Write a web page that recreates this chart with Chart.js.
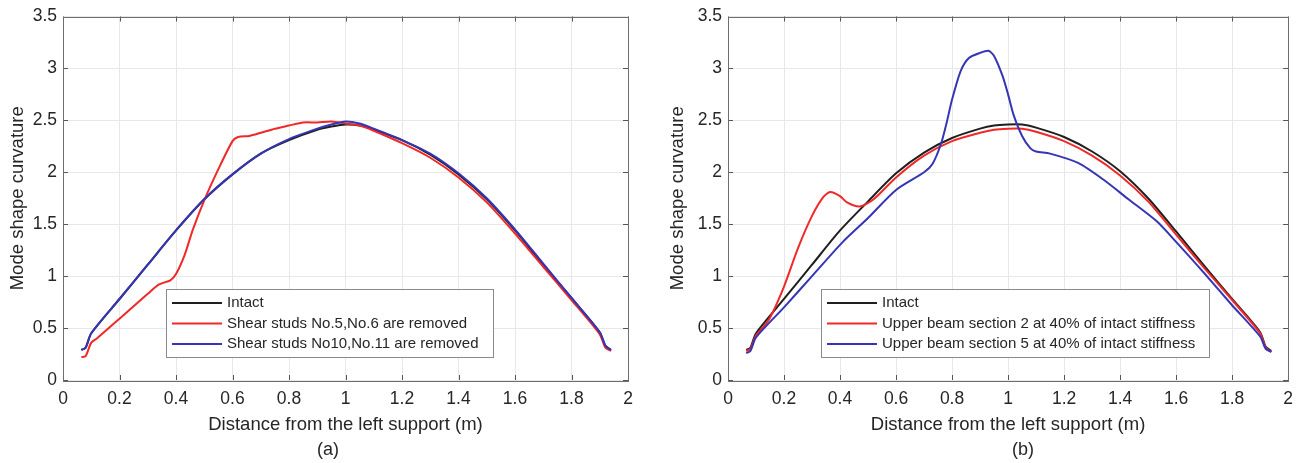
<!DOCTYPE html>
<html>
<head>
<meta charset="utf-8">
<script src="https://cdn.jsdelivr.net/npm/chart.js@4.4.1/dist/chart.umd.min.js"></script>
<style>
  html, body { margin: 0; padding: 0; background: #fff; }
  #wrap { position: relative; width: 1302px; height: 463px; }
  .panel { position: absolute; top: 0; height: 463px; }
  #panelA { left: 0; width: 660px; }
  #panelB { left: 660px; width: 642px; }
</style>
</head>
<body>
<div id="wrap">
  <div class="panel" id="panelA"><canvas id="chartA" width="660" height="463"></canvas></div>
  <div class="panel" id="panelB"><canvas id="chartB" width="642" height="463"></canvas></div>
</div>
<script>
// Axis ticks (both panels)
const xTickValues = [0, 0.2, 0.4, 0.6, 0.8, 1, 1.2, 1.4, 1.6, 1.8, 2];
const xTickLabels = ["0", "0.2", "0.4", "0.6", "0.8", "1", "1.2", "1.4", "1.6", "1.8", "2"];
const yTickValues = [0, 0.5, 1, 1.5, 2, 2.5, 3, 3.5];
const yTickLabels = ["0", "0.5", "1", "1.5", "2", "2.5", "3", "3.5"];

// Panel (a)
const aIntactX = [0.065, 0.08, 0.1, 0.2, 0.3, 0.4, 0.5, 0.6, 0.7, 0.8, 0.9, 0.95, 1.0, 1.05, 1.1, 1.2, 1.3, 1.4, 1.5, 1.6, 1.7, 1.8, 1.9, 1.92, 1.94];
const aIntactY = [0.29, 0.31, 0.45, 0.78, 1.11, 1.44, 1.74, 1.98, 2.18, 2.31, 2.41, 2.44, 2.46, 2.45, 2.41, 2.31, 2.17, 1.98, 1.74, 1.44, 1.11, 0.79, 0.46, 0.33, 0.29];

const aStuds56X = [0.065, 0.08, 0.1, 0.12, 0.2, 0.3, 0.34, 0.38, 0.4, 0.43, 0.46, 0.5, 0.55, 0.6, 0.62, 0.66, 0.7, 0.75, 0.8, 0.85, 0.9, 0.95, 1.0, 1.05, 1.1, 1.2, 1.3, 1.4, 1.5, 1.6, 1.7, 1.8, 1.9, 1.92, 1.94];
const aStuds56Y = [0.22, 0.23, 0.36, 0.40, 0.59, 0.83, 0.92, 0.96, 1.02, 1.2, 1.45, 1.73, 2.03, 2.30, 2.34, 2.35, 2.38, 2.42, 2.45, 2.48, 2.48, 2.49, 2.47, 2.45, 2.40, 2.28, 2.14, 1.95, 1.71, 1.41, 1.09, 0.77, 0.44, 0.31, 0.28];

const aStuds1011X = [0.065, 0.08, 0.1, 0.2, 0.3, 0.4, 0.5, 0.6, 0.7, 0.8, 0.9, 0.95, 1.0, 1.05, 1.1, 1.2, 1.3, 1.4, 1.5, 1.6, 1.7, 1.8, 1.9, 1.92, 1.94];
const aStuds1011Y = [0.29, 0.31, 0.45, 0.78, 1.11, 1.44, 1.74, 1.98, 2.18, 2.32, 2.42, 2.46, 2.49, 2.47, 2.42, 2.31, 2.18, 1.99, 1.75, 1.45, 1.12, 0.79, 0.46, 0.33, 0.29];

// Panel (b)
const bIntactX = [0.065, 0.08, 0.1, 0.2, 0.3, 0.4, 0.5, 0.6, 0.7, 0.8, 0.9, 0.95, 1.0, 1.05, 1.1, 1.2, 1.3, 1.4, 1.5, 1.6, 1.7, 1.8, 1.9, 1.92, 1.94];
const bIntactY = [0.29, 0.31, 0.45, 0.78, 1.11, 1.44, 1.72, 1.99, 2.19, 2.33, 2.42, 2.45, 2.46, 2.46, 2.43, 2.34, 2.2, 2.01, 1.75, 1.43, 1.1, 0.78, 0.46, 0.32, 0.28];

const bSection2X = [0.065, 0.08, 0.1, 0.12, 0.15, 0.2, 0.25, 0.3, 0.34, 0.365, 0.4, 0.425, 0.47, 0.52, 0.6, 0.7, 0.8, 0.9, 0.95, 1.0, 1.05, 1.1, 1.2, 1.3, 1.4, 1.5, 1.6, 1.7, 1.8, 1.9, 1.92, 1.94];
const bSection2Y = [0.28, 0.30, 0.43, 0.49, 0.60, 0.90, 1.27, 1.58, 1.76, 1.81, 1.77, 1.71, 1.67, 1.74, 1.95, 2.16, 2.30, 2.38, 2.41, 2.42, 2.42, 2.39, 2.30, 2.16, 1.97, 1.72, 1.40, 1.08, 0.77, 0.45, 0.31, 0.27];

const bSection5X = [0.065, 0.08, 0.1, 0.2, 0.3, 0.41, 0.5, 0.6, 0.7, 0.73, 0.76, 0.78, 0.8, 0.83, 0.86, 0.9, 0.93, 0.95, 0.98, 1.0, 1.02, 1.05, 1.08, 1.1, 1.15, 1.25, 1.34, 1.43, 1.53, 1.6, 1.7, 1.8, 1.9, 1.92, 1.94];
const bSection5Y = [0.26, 0.28, 0.41, 0.70, 1.00, 1.33, 1.56, 1.83, 2.00, 2.08, 2.27, 2.47, 2.70, 2.97, 3.10, 3.15, 3.17, 3.12, 2.93, 2.75, 2.55, 2.35, 2.23, 2.20, 2.18, 2.09, 1.93, 1.74, 1.53, 1.33, 1.03, 0.72, 0.42, 0.30, 0.27];

const COLOR_BLACK = "#1f1f1f";
const COLOR_RED = "#f02828";
const COLOR_BLUE = "#3535b5";
const TEXT_COLOR = "#262626";
const FONT = "'Liberation Sans', Arial, sans-serif";

const toPoints = (xs, ys) => xs.map((x, i) => ({ x: x, y: ys[i] }));

// frame, inward ticks, in-plot legend and panel caption
const matlabAxes = {
  id: "matlabAxes",
  afterDatasetsDraw(chart, args, opts) {
    const ctx = chart.ctx;
    const area = chart.chartArea;
    const xs = chart.scales.x;
    const ys = chart.scales.y;
    ctx.save();

    // inward tick marks on all four sides
    ctx.strokeStyle = "#555";
    ctx.lineWidth = 1;
    ctx.beginPath();
    xTickValues.forEach((v) => {
      const px = Math.round(xs.getPixelForValue(v)) + 0.5;
      ctx.moveTo(px, area.bottom);
      ctx.lineTo(px, area.bottom - 5);
      ctx.moveTo(px, area.top);
      ctx.lineTo(px, area.top + 5);
    });
    yTickValues.forEach((v) => {
      const py = Math.round(ys.getPixelForValue(v)) + 0.5;
      ctx.moveTo(area.left, py);
      ctx.lineTo(area.left + 5, py);
      ctx.moveTo(area.right, py);
      ctx.lineTo(area.right - 5, py);
    });
    ctx.stroke();

    // box
    ctx.strokeStyle = "#6e6e6e";
    ctx.strokeRect(Math.round(area.left) + 0.5, Math.round(area.top) + 0.5,
      Math.round(area.right - area.left), Math.round(area.bottom - area.top));

    // legend
    const lg = opts.legend;
    if (lg) {
      ctx.fillStyle = "#fff";
      ctx.fillRect(lg.left, lg.top, lg.width, lg.height);
      ctx.strokeStyle = "#8a8a8a";
      ctx.strokeRect(lg.left + 0.5, lg.top + 0.5, lg.width, lg.height);
      ctx.font = lg.fontSize + "px " + FONT;
      ctx.textBaseline = "middle";
      ctx.textAlign = "left";
      chart.data.datasets.forEach((ds, i) => {
        const y = lg.top + lg.firstRow + i * lg.rowGap;
        ctx.strokeStyle = ds.borderColor;
        ctx.lineWidth = 2;
        ctx.beginPath();
        ctx.moveTo(lg.left + 6, y);
        ctx.lineTo(lg.left + 56, y);
        ctx.stroke();
        ctx.fillStyle = TEXT_COLOR;
        ctx.fillText(ds.label, lg.left + 61, y);
      });
    }

    // caption under the axis title
    if (opts.caption) {
      ctx.font = "18px " + FONT;
      ctx.fillStyle = TEXT_COLOR;
      ctx.textAlign = "center";
      ctx.textBaseline = "middle";
      ctx.fillText(opts.caption.text, opts.caption.x, opts.caption.y);
    }
    ctx.restore();
  },
};

const makeChart = (canvasId, datasets, yWidth, rightPad, legendOpts, caption) => {
  const ctx = document.getElementById(canvasId).getContext("2d");
  return new Chart(ctx, {
    type: "line",
    data: { datasets: datasets },
    options: {
      responsive: false,
      animation: false,
      devicePixelRatio: 1,
      layout: { padding: { top: 15, right: rightPad, left: 0, bottom: 0 } },
      elements: {
        point: { radius: 0 },
        line: { borderWidth: 2, tension: 0.25 },
      },
      plugins: {
        legend: { display: false },
        tooltip: { enabled: false },
        matlabAxes: { legend: legendOpts, caption: caption },
      },
      scales: {
        x: {
          type: "linear",
          min: 0,
          max: 2,
          afterBuildTicks: (scale) => {
            scale.ticks = xTickValues.map((v) => ({ value: v }));
          },
          afterFit: (scale) => {
            scale.height = 83;
          },
          grid: { color: "#e8e8e8", drawTicks: false },
          border: { display: false },
          ticks: {
            padding: 9,
            color: TEXT_COLOR,
            font: { family: FONT, size: 17.5 },
            maxRotation: 0,
            callback: (v, i) => xTickLabels[i],
          },
          title: {
            display: true,
            text: "Distance from the left support (m)",
            color: TEXT_COLOR,
            font: { family: FONT, size: 18.5 },
            padding: { top: 0, bottom: 27 },
          },
        },
        y: {
          type: "linear",
          min: 0,
          max: 3.5,
          afterBuildTicks: (scale) => {
            scale.ticks = yTickValues.map((v) => ({ value: v }));
          },
          afterFit: (scale) => {
            scale.width = yWidth;
          },
          grid: { color: "#e8e8e8", drawTicks: false },
          border: { display: false },
          ticks: {
            padding: 6,
            color: TEXT_COLOR,
            font: { family: FONT, size: 17.5 },
            callback: (v, i) => yTickLabels[i],
          },
          title: {
            display: true,
            text: "Mode shape curvature",
            color: TEXT_COLOR,
            font: { family: FONT, size: 18.5 },
            padding: { top: 7, bottom: 0 },
          },
        },
      },
    },
    plugins: [matlabAxes],
  });
};

const chartA = makeChart(
  "chartA",
  [
    { label: "Intact", data: toPoints(aIntactX, aIntactY), borderColor: COLOR_BLACK, order: 2 },
    { label: "Shear studs No.5,No.6 are removed", data: toPoints(aStuds56X, aStuds56Y), borderColor: COLOR_RED, order: 1 },
    { label: "Shear studs No10,No.11 are removed", data: toPoints(aStuds1011X, aStuds1011Y), borderColor: COLOR_BLUE, order: 0 },
  ],
  63,
  32,
  { left: 166, top: 289, width: 327, height: 68, firstRow: 14, rowGap: 20.5, fontSize: 15 },
  { text: "(a)", x: 328, y: 450 }
);

const chartB = makeChart(
  "chartB",
  [
    { label: "Intact", data: toPoints(bIntactX, bIntactY), borderColor: COLOR_BLACK, order: 2 },
    { label: "Upper beam section 2 at 40% of intact stiffness", data: toPoints(bSection2X, bSection2Y), borderColor: COLOR_RED, order: 1 },
    { label: "Upper beam section 5 at 40% of intact stiffness", data: toPoints(bSection5X, bSection5Y), borderColor: COLOR_BLUE, order: 0 },
  ],
  68,
  13,
  { left: 161, top: 289, width: 388, height: 68, firstRow: 14, rowGap: 20.5, fontSize: 15 },
  { text: "(b)", x: 363, y: 450 }
);
</script>
</body>
</html>
